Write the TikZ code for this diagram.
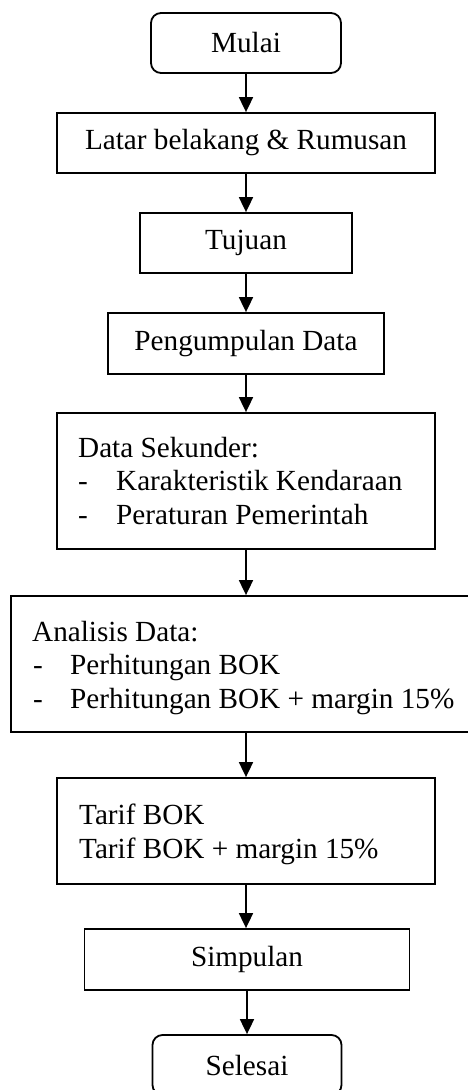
\documentclass[tikz,border=0pt]{standalone}
\usepackage{fontspec}
\setmainfont{Liberation Serif}
\usetikzlibrary{arrows.meta}
\begin{document}
\begin{tikzpicture}[x=1pt,y=-1pt,
  font=\fontsize{29.2}{33.5}\selectfont,
  box/.style={draw=black,line width=1.8pt,inner sep=0pt,anchor=center},
  term/.style={box,rounded corners=10pt},
  txt/.style={anchor=base west,inner sep=0pt},
  arr/.style={draw=black,line width=1.8pt,-{Triangle[width=14pt,length=15pt]}}]
\useasboundingbox (0,0) rectangle (468,1090);
\clip (0,0) rectangle (468,1090);
\node[term,minimum width=190pt,minimum height=60pt] (mulai) at (246,43) {Mulai};
\node[box,minimum width=378pt,minimum height=60pt] (latar) at (246,143) {Latar belakang \& Rumusan};
\node[box,minimum width=212pt,minimum height=60pt] (tujuan) at (246,243) {Tujuan};
\node[box,minimum width=276pt,minimum height=61pt] (kumpul) at (246,343.5) {Pengumpulan Data};
\node[box,minimum width=378pt,minimum height=136pt] (sekunder) at (246,481) {};
\node[txt] (s1) at (78,457) {Data Sekunder:};
\node[txt] (s2d) at (78,490.5) {-};
\node[txt] (s2) at (116,490.5) {Karakteristik Kendaraan};
\node[txt] (s3d) at (78,524) {-};
\node[txt] (s3) at (116,524) {Peraturan Pemerintah};
\node[box,minimum width=470pt,minimum height=136pt] (analisis) at (246,664) {};
\node[txt] (a1) at (32,641) {Analisis Data:};
\node[txt] (a2d) at (33,674.5) {-};
\node[txt] (a2) at (70,674.5) {Perhitungan BOK};
\node[txt] (a3d) at (33,708) {-};
\node[txt] (a3) at (70,708) {Perhitungan BOK + margin 15\%};
\node[box,minimum width=378pt,minimum height=106pt] (tarif) at (246,831) {};
\node[txt] (t1) at (79,824.3) {Tarif BOK};
\node[txt] (t2) at (79,858.3) {Tarif BOK + margin 15\%};
\node[box,minimum width=325pt,minimum height=61pt] (simpulan) at (247,959.5) {Simpulan};
\node[term,minimum width=189pt,minimum height=60pt] (selesai) at (247,1065) {Selesai};
\draw[arr] (mulai) -- (latar);
\draw[arr] (latar) -- (tujuan);
\draw[arr] (tujuan) -- (kumpul);
\draw[arr] (kumpul) -- (sekunder);
\draw[arr] (sekunder) -- (analisis);
\draw[arr] (analisis) -- (tarif);
\draw[arr] (tarif.south) -- (simpulan.north -| tarif.south);
\draw[arr] (simpulan) -- (selesai);
\end{tikzpicture}
\end{document}
